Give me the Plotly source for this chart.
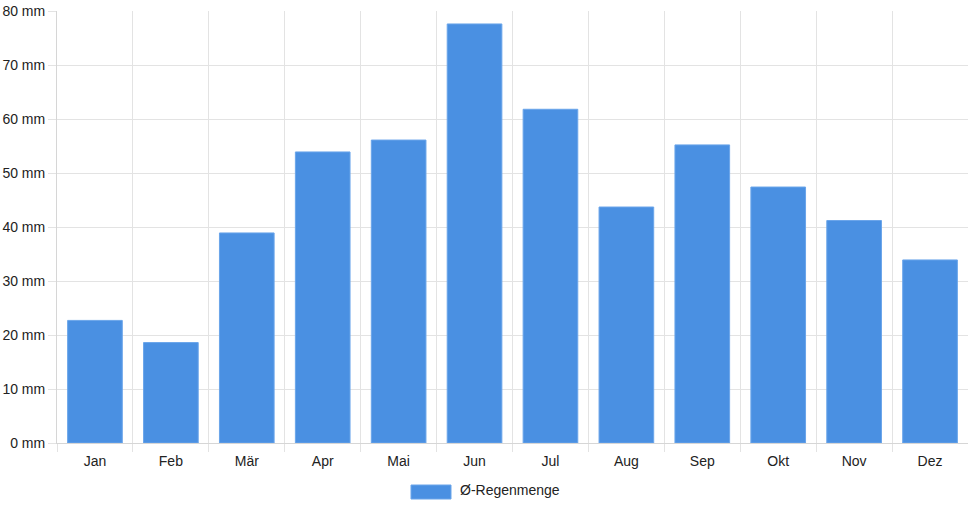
import plotly.graph_objects as go

months = ["Jan", "Feb", "Mär", "Apr", "Mai", "Jun", "Jul", "Aug", "Sep", "Okt", "Nov", "Dez"]
rain_mm = [22.7, 18.6, 38.9, 53.9, 56.1, 77.6, 61.8, 43.7, 55.2, 47.4, 41.2, 33.9]
y_ticks = [0, 10, 20, 30, 40, 50, 60, 70, 80]
series_name = "Ø-Regenmenge"

BAR = "#4a90e2"
GRID = "#e3e3e3"
TEXT = "#222222"

fig = go.Figure(
    go.Bar(
        x=months,
        y=rain_mm,
        name=series_name,
        marker=dict(color=BAR, line=dict(color="#6aa5ea", width=1)),
        showlegend=False,
    )
)

fig.update_layout(
    width=968,
    height=508,
    margin=dict(l=57, r=0, t=11, b=65),
    paper_bgcolor="white",
    plot_bgcolor="white",
    font=dict(family="Liberation Sans, Arial, sans-serif", size=14, color=TEXT),
    bargap=0.28,
)

fig.update_xaxes(
    type="category",
    tickson="boundaries",
    ticks="outside",
    ticklen=8,
    tickcolor=GRID,
    ticklabelstandoff=5,
    showgrid=True,
    gridcolor=GRID,
    showline=True,
    linecolor="#d6d6d6",
    linewidth=1,
)

fig.update_yaxes(
    range=[0, 80],
    tickvals=y_ticks,
    ticktext=[f"{v} mm" for v in y_ticks],
    ticks="outside",
    ticklen=8,
    tickcolor=GRID,
    showgrid=True,
    gridcolor=GRID,
    zeroline=False,
    showline=True,
    linecolor="#d6d6d6",
    linewidth=1,
)

# legend swatch + label, drawn like the original (wide box)
fig.add_shape(
    type="rect", xref="paper", yref="paper",
    x0=(411 - 57) / 911, x1=(451 - 57) / 911,
    y0=-(484 - 442) / 432, y1=-(498 - 442) / 432,
    fillcolor=BAR, line=dict(color="#6aa5ea", width=1),
)
fig.add_annotation(
    text=series_name, xref="paper", yref="paper",
    x=(458 - 57) / 911, y=-(489 - 442) / 432,
    xanchor="left", yanchor="middle", showarrow=False,
    font=dict(size=14, color=TEXT),
)

# page has a default 8px body margin; drop it so the chart sits at 0,0
fig.write_html(
    "out.html",
    config={"displayModeBar": False},
    post_script="document.body.style.margin='0';",
)
